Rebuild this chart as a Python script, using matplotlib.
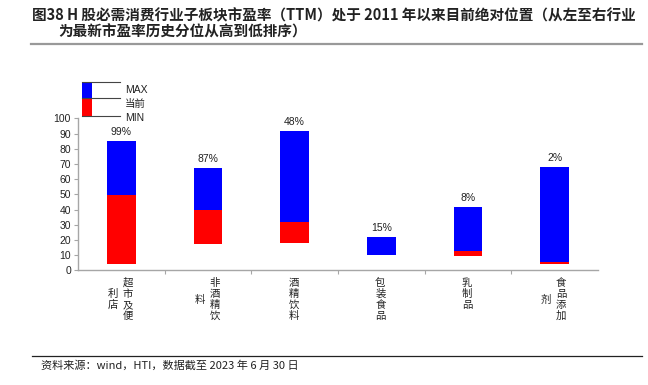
import matplotlib
matplotlib.use("Agg")
import matplotlib.pyplot as plt
from matplotlib.patches import Rectangle
from matplotlib.lines import Line2D

plt.rcParams["font.family"] = ["Liberation Sans", "Noto Sans CJK SC", "DejaVu Sans"]

CJK = ["Noto Sans CJK SC", "DejaVu Sans"]

TITLE_1 = "图38 H 股必需消费行业子板块市盈率（TTM）处于 2011 年以来目前绝对位置（从左至右行业"
TITLE_2 = "为最新市盈率历史分位从高到低排序）"
SOURCE = "资料来源：wind，HTI，数据截至 2023 年 6 月 30 日"

categories = ["超市及便利店", "非酒精饮料", "酒精饮料", "包装食品", "乳制品", "食品添加剂"]
max_pe = [85.0, 67.3, 91.6, 22.1, 41.6, 68.2]
cur_pe = [49.5, 39.9, 31.8, 9.8, 12.7, 5.3]
min_pe = [4.0, 17.5, 18.2, 9.8, 9.4, 4.3]
pct_labels = ["99%", "87%", "48%", "15%", "8%", "2%"]

BLUE = "#0000FF"
RED = "#FF0000"
GRAY = "#A6A6A6"

fig = plt.figure(figsize=(6.48, 3.85), dpi=100)
ax = fig.add_axes([78 / 648, 1 - 270.3 / 385, 520 / 648, 152 / 385])

x = list(range(len(categories)))
red_h = [c - m for c, m in zip(cur_pe, min_pe)]
blue_h = [mx - c for mx, c in zip(max_pe, cur_pe)]
ax.bar(x, red_h, bottom=min_pe, width=0.33, color=RED, linewidth=0)
ax.bar(x, blue_h, bottom=cur_pe, width=0.33, color=BLUE, linewidth=0)

for xi, top, lab in zip(x, max_pe, pct_labels):
    ax.annotate(lab, (xi, top), xytext=(0, 6.5), textcoords="offset points",
                ha="center", va="center", fontsize=7.5, color="#222222")

ax.set_xlim(-0.5, len(categories) - 0.5)
ax.set_ylim(0, 100)
ax.set_yticks(range(0, 101, 10))
ax.set_xticks([i + 0.5 for i in range(len(categories) - 1)])
ax.set_xticklabels([])
ax.tick_params(axis="y", labelsize=7.5, length=3, color=GRAY, pad=2, labelcolor="#222222")
ax.tick_params(axis="x", length=3, color=GRAY)
for side in ("top", "right"):
    ax.spines[side].set_visible(False)
for side in ("left", "bottom"):
    ax.spines[side].set_color(GRAY)
    ax.spines[side].set_linewidth(1.0)

# vertical, column-wrapped category labels (columns right to left)
px = 0.72  # points per pixel at 100 dpi
for xi, name in zip(x, categories):
    cols = [name[i:i + 4] for i in range(0, len(name), 4)]
    height = max(len(c) for c in cols)
    ncol = len(cols)
    for k, col in enumerate(cols):
        dx = (-1 + ((ncol - 1) / 2 - k) * 15) * px
        for j, ch in enumerate(col):
            dy = -(12.7 + ((height - len(col)) / 2 + j) * 11) * px
            ax.annotate(ch, (xi, 0), xycoords=ax.get_xaxis_transform(),
                        xytext=(dx, dy), textcoords="offset points",
                        ha="center", va="center", fontsize=7.5,
                        family=CJK, color="#222222", annotation_clip=False)

# small legend diagram above the axis
ax.add_patch(Rectangle((-0.454, 113.6), 0.115, 10.5, color=BLUE, clip_on=False, lw=0))
ax.add_patch(Rectangle((-0.454, 101.7), 0.115, 11.9, color=RED, clip_on=False, lw=0))
for yy in (124.1, 113.6, 101.7):
    ax.add_line(Line2D([-0.454, -0.017], [yy, yy], color="#444444", lw=0.8, clip_on=False))
for yy, lab in zip((118.6, 109.2, 100.0), ("MAX", "当前", "MIN")):
    ax.text(0.040, yy, lab, ha="left", va="center", fontsize=7.5, color="#222222",
            clip_on=False)

# title and footer
fig.text(32 / 648, 1 - 15 / 385, TITLE_1, ha="left", va="center", fontsize=10.5,
         fontweight="bold", family=CJK, color="#222222")
fig.text(58 / 648, 1 - 31.7 / 385, TITLE_2, ha="left", va="center", fontsize=10.5,
         fontweight="bold", family=CJK, color="#222222")
fig.add_artist(Line2D([31 / 648, 642 / 648], [1 - 43.5 / 385] * 2, color="#999999", lw=1.6))
fig.add_artist(Line2D([32 / 648, 642 / 648], [1 - 355.7 / 385] * 2, color="#222222", lw=0.9))
fig.text(40.7 / 648, 1 - 365.5 / 385, SOURCE, ha="left", va="center", fontsize=8,
         family=CJK, color="#222222")

fig.savefig("out.png", dpi=100)
